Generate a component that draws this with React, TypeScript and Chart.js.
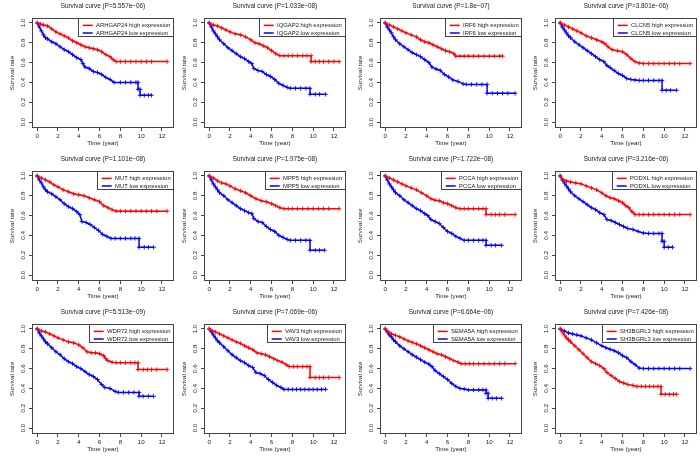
import React, { useEffect, useRef } from "react";
import { Chart, registerables } from "chart.js";
Chart.register(...registerables);

type Pt = [number, number];

const genes = ["ARHGAP24", "IQGAP2", "IRF6", "CLCN5", "MUT", "MPP5", "PCCA", "PODXL", "WDR72", "VAV3", "SEMA5A", "SH3BGRL3"];
const pValues = ["5.557e\u221206", "1.033e\u221208", "1.8e\u221207", "3.801e\u221206", "1.101e\u221208", "1.975e\u221208", "1.722e\u221208", "3.216e\u221206", "5.513e\u221209", "7.069e\u221206", "6.664e\u221206", "7.426e\u221208"];
const xTicks = [0, 2, 4, 6, 8, 10, 12];
const yTicks = [0, 0.2, 0.4, 0.6, 0.8, 1];
const yTickLabels = ["0.0", "0.2", "0.4", "0.6", "0.8", "1.0"];

const arhgap24High: Pt[] = [[0,1],[0.3,0.99],[0.6,0.98],[1,0.97],[1.4,0.94],[1.8,0.91],[2.2,0.89],[2.6,0.87],[3,0.85],[3.4,0.82],[3.8,0.8],[4.2,0.78],[4.6,0.76],[5,0.75],[5.4,0.74],[5.8,0.73],[6.2,0.71],[6.6,0.68],[7,0.66],[7.3,0.63],[7.6,0.61],[8,0.61],[8.5,0.61],[9,0.61],[9.5,0.61],[10,0.61],[10.5,0.61],[11,0.61],[12.5,0.61]];
const arhgap24Low: Pt[] = [[0,1],[0.2,0.96],[0.4,0.92],[0.6,0.88],[0.8,0.85],[1,0.84],[1.4,0.81],[1.8,0.79],[2.2,0.76],[2.6,0.73],[3,0.71],[3.4,0.68],[3.8,0.65],[4.2,0.63],[4.4,0.59],[4.6,0.555],[5,0.54],[5.4,0.51],[5.8,0.5],[6.2,0.48],[6.6,0.45],[7,0.43],[7.4,0.4],[8,0.4],[8.5,0.4],[9,0.4],[9.5,0.4],[9.7,0.4],[9.7,0.33],[9.9,0.33],[9.9,0.27],[10.3,0.27],[10.7,0.27],[11,0.27]];

const iqgap2High: Pt[] = [[0,1],[0.4,0.98],[0.8,0.97],[1.2,0.95],[1.6,0.93],[2,0.91],[2.5,0.89],[3,0.88],[3.5,0.86],[4,0.83],[4.4,0.8],[4.8,0.79],[5.2,0.77],[5.6,0.75],[6,0.72],[6.4,0.69],[6.8,0.67],[7.2,0.67],[7.6,0.67],[8,0.67],[8.5,0.67],[9,0.67],[9.4,0.67],[9.8,0.67],[9.8,0.61],[10.2,0.61],[10.6,0.61],[11,0.61],[11.5,0.61],[12,0.61],[12.5,0.61]];
const iqgap2Low: Pt[] = [[0,1],[0.2,0.96],[0.4,0.92],[0.6,0.89],[0.8,0.86],[1,0.83],[1.4,0.79],[1.8,0.75],[2.2,0.72],[2.6,0.69],[3,0.66],[3.4,0.64],[3.8,0.61],[4.1,0.59],[4.3,0.54],[4.7,0.52],[5.1,0.51],[5.5,0.48],[5.9,0.46],[6.3,0.43],[6.7,0.39],[7.1,0.37],[7.5,0.35],[7.8,0.34],[8.3,0.34],[8.8,0.34],[9.3,0.34],[9.7,0.34],[9.7,0.28],[10.2,0.28],[10.6,0.28],[11.2,0.28]];

const irf6High: Pt[] = [[0,1],[0.4,0.98],[0.8,0.96],[1.2,0.94],[1.6,0.92],[2,0.9],[2.5,0.88],[3,0.86],[3.4,0.83],[3.8,0.81],[4.2,0.8],[4.6,0.78],[5,0.76],[5.4,0.74],[5.8,0.72],[6.2,0.71],[6.6,0.69],[6.8,0.665],[7.2,0.665],[7.6,0.665],[8,0.665],[8.5,0.665],[9,0.665],[9.5,0.665],[10,0.665],[10.5,0.665],[11,0.665],[11.3,0.665]];
const irf6Low: Pt[] = [[0,1],[0.2,0.96],[0.4,0.93],[0.6,0.9],[0.8,0.86],[1,0.83],[1.4,0.79],[1.8,0.76],[2.2,0.73],[2.6,0.7],[3,0.68],[3.4,0.66],[3.8,0.63],[4.2,0.6],[4.5,0.555],[4.9,0.535],[5.3,0.52],[5.7,0.48],[6.1,0.455],[6.5,0.425],[7,0.41],[7.5,0.385],[7.8,0.38],[8.3,0.38],[8.8,0.38],[9.3,0.38],[9.8,0.38],[9.8,0.29],[10.3,0.29],[10.8,0.29],[11.3,0.29],[11.8,0.29],[12.5,0.29]];

const clcn5High: Pt[] = [[0,1],[0.4,0.98],[0.8,0.96],[1.2,0.94],[1.6,0.92],[2,0.9],[2.5,0.87],[3,0.85],[3.5,0.83],[4,0.81],[4.3,0.79],[4.6,0.76],[5,0.73],[5.5,0.72],[6,0.71],[6.4,0.68],[6.8,0.64],[7.2,0.61],[7.6,0.595],[8,0.59],[8.5,0.59],[9,0.59],[9.5,0.59],[10,0.59],[10.5,0.59],[11,0.59],[11.5,0.59],[12.5,0.59]];
const clcn5Low: Pt[] = [[0,1],[0.2,0.96],[0.4,0.93],[0.6,0.9],[0.8,0.87],[1,0.85],[1.4,0.81],[1.8,0.78],[2.2,0.75],[2.6,0.72],[3,0.69],[3.4,0.66],[3.8,0.63],[4.2,0.61],[4.5,0.57],[4.8,0.55],[5.2,0.52],[5.6,0.49],[6,0.47],[6.4,0.44],[6.8,0.43],[7.2,0.425],[7.6,0.42],[8,0.42],[8.5,0.42],[9,0.42],[9.5,0.42],[9.8,0.42],[9.8,0.32],[10.2,0.32],[10.6,0.32],[11.2,0.32]];

const mutHigh: Pt[] = [[0,1],[0.4,0.98],[0.8,0.96],[1.2,0.94],[1.6,0.91],[2,0.89],[2.5,0.86],[3,0.84],[3.5,0.82],[4,0.81],[4.5,0.8],[5,0.78],[5.5,0.76],[6,0.74],[6.4,0.7],[6.8,0.68],[7.2,0.66],[7.6,0.645],[8,0.645],[8.5,0.645],[9,0.645],[9.5,0.645],[10,0.645],[10.5,0.645],[11,0.645],[11.5,0.645],[12.5,0.645]];
const mutLow: Pt[] = [[0,1],[0.2,0.96],[0.4,0.93],[0.6,0.89],[0.8,0.86],[1,0.84],[1.4,0.82],[1.8,0.79],[2.2,0.76],[2.6,0.72],[3,0.69],[3.4,0.67],[3.8,0.64],[4.1,0.61],[4.3,0.54],[4.7,0.53],[5.1,0.51],[5.5,0.48],[5.9,0.45],[6.3,0.41],[6.7,0.39],[7.1,0.37],[7.5,0.37],[8,0.37],[8.5,0.37],[9,0.37],[9.4,0.37],[9.8,0.37],[9.8,0.28],[10.3,0.28],[10.7,0.28],[11.2,0.28]];

const mpp5High: Pt[] = [[0,1],[0.4,0.98],[0.8,0.95],[1.2,0.93],[1.6,0.92],[2,0.9],[2.5,0.87],[3,0.85],[3.5,0.83],[4,0.8],[4.5,0.77],[5,0.75],[5.5,0.74],[6,0.72],[6.4,0.7],[6.8,0.68],[7.2,0.67],[7.6,0.67],[8,0.67],[8.5,0.67],[9,0.67],[9.5,0.67],[10,0.67],[10.5,0.67],[11,0.67],[11.5,0.67],[12.5,0.67]];
const mpp5Low: Pt[] = [[0,1],[0.2,0.96],[0.4,0.92],[0.6,0.89],[0.8,0.86],[1,0.83],[1.4,0.8],[1.8,0.76],[2.2,0.73],[2.6,0.7],[3,0.67],[3.4,0.65],[3.8,0.63],[4.1,0.62],[4.3,0.57],[4.7,0.54],[5.1,0.53],[5.5,0.49],[5.9,0.46],[6.3,0.44],[6.7,0.4],[7.1,0.38],[7.5,0.36],[7.8,0.35],[8.3,0.35],[8.8,0.35],[9.3,0.35],[9.7,0.35],[9.7,0.25],[10.2,0.25],[10.6,0.25],[11.1,0.25]];

const pccaHigh: Pt[] = [[0,1],[0.4,0.98],[0.8,0.96],[1.2,0.94],[1.6,0.92],[2,0.9],[2.5,0.88],[3,0.86],[3.5,0.83],[4,0.8],[4.4,0.77],[4.8,0.755],[5.2,0.75],[5.6,0.73],[6,0.72],[6.4,0.7],[6.8,0.68],[7.2,0.67],[7.6,0.67],[8,0.67],[8.5,0.67],[9,0.67],[9.4,0.67],[9.7,0.67],[9.7,0.61],[10.2,0.61],[10.6,0.61],[11,0.61],[11.5,0.61],[12.5,0.61]];
const pccaLow: Pt[] = [[0,1],[0.2,0.96],[0.4,0.92],[0.6,0.89],[0.8,0.86],[1,0.83],[1.4,0.8],[1.8,0.76],[2.2,0.73],[2.6,0.7],[3,0.67],[3.4,0.65],[3.8,0.62],[4.1,0.6],[4.4,0.56],[4.8,0.54],[5.2,0.52],[5.6,0.48],[6,0.44],[6.4,0.42],[6.8,0.39],[7.2,0.37],[7.6,0.35],[8,0.35],[8.5,0.35],[9,0.35],[9.4,0.35],[9.7,0.35],[9.7,0.3],[10.2,0.3],[10.6,0.3],[11.2,0.3]];

const podxlHigh: Pt[] = [[0,1],[0.3,0.96],[0.6,0.95],[1,0.94],[1.5,0.93],[2,0.92],[2.5,0.9],[3,0.88],[3.5,0.86],[4,0.83],[4.4,0.8],[4.8,0.78],[5.2,0.77],[5.6,0.75],[6,0.73],[6.3,0.7],[6.6,0.68],[6.9,0.64],[7.2,0.61],[7.6,0.61],[8,0.61],[8.5,0.61],[9,0.61],[9.5,0.61],[10,0.61],[10.5,0.61],[11,0.61],[11.5,0.61],[12.5,0.61]];
const podxlLow: Pt[] = [[0,1],[0.2,0.96],[0.4,0.93],[0.6,0.9],[0.8,0.87],[1,0.84],[1.4,0.8],[1.8,0.77],[2.2,0.74],[2.6,0.71],[3,0.68],[3.4,0.66],[3.8,0.63],[4.2,0.61],[4.5,0.56],[4.9,0.55],[5.3,0.53],[5.7,0.51],[6.1,0.49],[6.5,0.47],[7,0.46],[7.5,0.44],[8,0.425],[8.5,0.42],[9,0.42],[9.5,0.42],[9.8,0.42],[9.8,0.34],[10,0.34],[10,0.28],[10.4,0.28],[10.8,0.28]];

const wdr72High: Pt[] = [[0,1],[0.4,0.98],[0.8,0.97],[1.2,0.95],[1.6,0.93],[2,0.91],[2.5,0.89],[3,0.87],[3.5,0.86],[4,0.84],[4.4,0.81],[4.8,0.77],[5.2,0.76],[5.6,0.76],[6,0.75],[6.4,0.73],[6.6,0.7],[6.8,0.68],[7.2,0.665],[7.6,0.66],[8,0.66],[8.5,0.66],[9,0.66],[9.4,0.66],[9.7,0.66],[9.7,0.59],[10.2,0.59],[10.6,0.59],[11,0.59],[11.5,0.59],[12.5,0.59]];
const wdr72Low: Pt[] = [[0,1],[0.2,0.96],[0.4,0.93],[0.6,0.9],[0.8,0.87],[1,0.85],[1.4,0.81],[1.8,0.77],[2.2,0.74],[2.6,0.7],[3,0.67],[3.4,0.65],[3.8,0.62],[4.2,0.6],[4.6,0.57],[5,0.54],[5.4,0.52],[5.8,0.49],[6.2,0.44],[6.5,0.41],[7,0.4],[7.5,0.37],[7.8,0.36],[8.3,0.36],[8.8,0.36],[9.3,0.36],[9.8,0.36],[9.8,0.32],[10.2,0.32],[10.7,0.32],[11.2,0.32]];

const vav3High: Pt[] = [[0,1],[0.3,0.98],[0.6,0.97],[1,0.95],[1.4,0.93],[1.8,0.91],[2.2,0.89],[2.6,0.87],[3,0.855],[3.4,0.83],[3.8,0.81],[4.2,0.79],[4.6,0.76],[5,0.75],[5.4,0.74],[5.8,0.72],[6.2,0.7],[6.6,0.68],[7,0.665],[7.4,0.64],[7.7,0.62],[8.1,0.62],[8.5,0.62],[9,0.62],[9.4,0.62],[9.7,0.62],[9.7,0.51],[10.2,0.51],[10.6,0.51],[11,0.51],[11.5,0.51],[12.5,0.51]];
const vav3Low: Pt[] = [[0,1],[0.2,0.97],[0.4,0.94],[0.6,0.91],[0.8,0.88],[1,0.86],[1.4,0.82],[1.8,0.78],[2.2,0.74],[2.6,0.71],[3,0.68],[3.4,0.66],[3.8,0.63],[4.2,0.61],[4.5,0.56],[4.9,0.55],[5.3,0.53],[5.7,0.49],[6.1,0.46],[6.5,0.43],[6.9,0.41],[7.2,0.39],[7.6,0.39],[8,0.39],[8.4,0.39],[8.8,0.39],[9.2,0.39],[9.6,0.39],[10,0.39],[10.4,0.39],[10.8,0.39],[11.2,0.39]];

const sema5aHigh: Pt[] = [[0,1],[0.3,0.97],[0.6,0.95],[1,0.935],[1.4,0.92],[1.8,0.9],[2.2,0.88],[2.6,0.865],[3,0.85],[3.4,0.83],[3.8,0.81],[4.2,0.79],[4.6,0.77],[5,0.75],[5.4,0.74],[5.8,0.72],[6.2,0.7],[6.6,0.68],[7,0.665],[7.3,0.65],[7.7,0.65],[8.1,0.65],[8.5,0.65],[9,0.65],[9.5,0.65],[10,0.65],[10.5,0.65],[11,0.65],[11.5,0.65],[12.5,0.65]];
const sema5aLow: Pt[] = [[0,1],[0.2,0.97],[0.4,0.94],[0.6,0.92],[0.8,0.89],[1,0.87],[1.4,0.83],[1.8,0.8],[2.2,0.77],[2.6,0.74],[3,0.715],[3.4,0.69],[3.8,0.665],[4.2,0.645],[4.5,0.62],[4.8,0.58],[5.2,0.55],[5.6,0.52],[6,0.49],[6.4,0.45],[6.8,0.42],[7.2,0.4],[7.6,0.395],[8,0.385],[8.5,0.385],[9,0.385],[9.4,0.385],[9.7,0.385],[9.7,0.35],[9.9,0.35],[9.9,0.3],[10.3,0.3],[10.7,0.3],[11.2,0.3]];

const sh3bgrl3High: Pt[] = [[0,1],[0.2,0.97],[0.4,0.94],[0.6,0.91],[0.8,0.89],[1,0.87],[1.4,0.83],[1.8,0.79],[2.2,0.75],[2.6,0.71],[3,0.67],[3.4,0.65],[3.8,0.63],[4.2,0.6],[4.5,0.56],[4.9,0.53],[5.3,0.5],[5.7,0.47],[6.1,0.455],[6.5,0.44],[7,0.43],[7.4,0.42],[7.8,0.42],[8.2,0.42],[8.6,0.42],[9,0.42],[9.4,0.42],[9.7,0.42],[9.7,0.34],[10.1,0.34],[10.5,0.34],[10.9,0.34],[11.2,0.34]];
const sh3bgrl3Low: Pt[] = [[0,1],[0.4,0.98],[0.8,0.96],[1.2,0.95],[1.6,0.94],[2,0.93],[2.5,0.91],[3,0.89],[3.5,0.86],[4,0.83],[4.4,0.81],[4.8,0.795],[5.2,0.78],[5.6,0.76],[6,0.73],[6.4,0.71],[6.8,0.67],[7.2,0.64],[7.6,0.605],[8,0.6],[8.5,0.6],[9,0.6],[9.5,0.6],[10,0.6],[10.5,0.6],[11,0.6],[11.5,0.6],[12.5,0.6]];

const highCurves = [arhgap24High, iqgap2High, irf6High, clcn5High, mutHigh, mpp5High, pccaHigh, podxlHigh, wdr72High, vav3High, sema5aHigh, sh3bgrl3High];
const lowCurves = [arhgap24Low, iqgap2Low, irf6Low, clcn5Low, mutLow, mpp5Low, pccaLow, podxlLow, wdr72Low, vav3Low, sema5aLow, sh3bgrl3Low];

// layout (pixels)
const colBoxLeft = [32, 204, 380, 555];
const rowBoxTop = [18, 171, 324];
const BOX_W = 144;
const BOX_H = 110;
const PAD_L = 32;
const PAD_T = 18;
const PAD_B = 26;
const PAD_R = 1;

const FONT = '"Liberation Sans", Arial, Helvetica, sans-serif';
const RED = "#ff0000";
const BLUE = "#0000ff";
const AXIS = "#444444";
const TEXT = "#1a1a1a";

function makeDataset(label: string, pts: Pt[], color: string) {
  return {
    label,
    data: pts.map(([x, y]) => ({ x, y })),
    borderColor: color,
    backgroundColor: color,
    borderWidth: 1.5,
    pointStyle: "cross" as const,
    pointRadius: 2.2,
    pointBorderWidth: 0.9,
    pointBorderColor: color,
    pointHoverRadius: 2.2,
    fill: false,
    tension: 0,
  };
}

function decorPlugin(idx: number) {
  return {
    id: "decor" + idx,
    afterDraw(chart: any) {
      const { ctx, chartArea: a, scales } = chart;
      const xs = scales.x;
      const ys = scales.y;
      ctx.save();
      // box
      ctx.strokeStyle = AXIS;
      ctx.lineWidth = 1;
      ctx.strokeRect(Math.round(a.left) + 0.5, Math.round(a.top) + 0.5, Math.round(a.width) - 1, Math.round(a.height) - 1);
      ctx.fillStyle = TEXT;
      ctx.textAlign = "center";
      ctx.textBaseline = "middle";
      const cx = (a.left + a.right) / 2;
      // title
      ctx.font = `6.4px ${FONT}`;
      ctx.fillText(`Survival curve (P=${pValues[idx]})`, cx, a.top - 11.5);
      // x ticks
      ctx.font = `6.2px ${FONT}`;
      xTicks.forEach((v) => ctx.fillText(String(v), xs.getPixelForValue(v), a.bottom + 8));
      ctx.fillText("Time (year)", cx, a.bottom + 15);
      // y ticks rotated
      yTicks.forEach((v, i) => {
        ctx.save();
        ctx.translate(a.left - 9, ys.getPixelForValue(v));
        ctx.rotate(-Math.PI / 2);
        ctx.fillText(yTickLabels[i], 0, 0);
        ctx.restore();
      });
      ctx.save();
      ctx.translate(a.left - 20, (a.top + a.bottom) / 2);
      ctx.rotate(-Math.PI / 2);
      ctx.fillText("Survival rate", 0, 0);
      ctx.restore();
      // legend
      ctx.font = `5.9px ${FONT}`;
      const ds = chart.data.datasets;
      let tw = 0;
      ds.forEach((d: any) => (tw = Math.max(tw, ctx.measureText(d.label).width)));
      const bw = 4.7 + 10 + 3.3 + tw + 3.7;
      const bh = 18;
      const bx = Math.round(a.right - bw);
      const by = Math.round(a.top);
      ctx.fillStyle = "#ffffff";
      ctx.fillRect(bx, by, a.right - bx, bh);
      ctx.strokeStyle = AXIS;
      ctx.strokeRect(bx + 0.5, by + 0.5, Math.round(a.right) - bx - 1, bh);
      ds.forEach((d: any, i: number) => {
        const ly = by + 7.4 + i * 7.6;
        ctx.strokeStyle = d.borderColor;
        ctx.lineWidth = 1.5;
        ctx.beginPath();
        ctx.moveTo(bx + 4.7, ly);
        ctx.lineTo(bx + 14.7, ly);
        ctx.stroke();
        ctx.fillStyle = TEXT;
        ctx.textAlign = "left";
        ctx.fillText(d.label, bx + 18, ly);
      });
      ctx.restore();
    },
  };
}

function Panel({ idx, left, top }: { idx: number; left: number; top: number }) {
  const ref = useRef<HTMLCanvasElement>(null);
  const W = PAD_L + BOX_W + PAD_R;
  const H = PAD_T + BOX_H + PAD_B;
  useEffect(() => {
    const canvas = ref.current!;
    const gene = genes[idx];
    const axisCommon = {
      type: "linear" as const,
      ticks: { display: false },
      grid: { display: true, drawOnChartArea: false, drawTicks: true, tickLength: 3, color: AXIS, lineWidth: 1 },
      border: { display: false },
    };
    const chart = new Chart(canvas, {
      type: "line",
      data: {
        datasets: [
          makeDataset(`${gene} high expression`, highCurves[idx], RED),
          makeDataset(`${gene} low expression`, lowCurves[idx], BLUE),
        ],
      },
      options: {
        responsive: false,
        animation: false,
        devicePixelRatio: 1,
        events: [],
        layout: { padding: { top: PAD_T, left: 0, right: PAD_R, bottom: 0 } },
        plugins: { legend: { display: false }, tooltip: { enabled: false }, title: { display: false } },
        scales: {
          x: {
            ...axisCommon,
            min: -0.5,
            max: 13.15,
            afterBuildTicks: (s: any) => { s.ticks = xTicks.map((v) => ({ value: v })); },
            afterFit: (s: any) => { s.height = PAD_B; },
          },
          y: {
            ...axisCommon,
            min: -0.06,
            max: 1.05,
            afterBuildTicks: (s: any) => { s.ticks = yTicks.map((v) => ({ value: v })); },
            afterFit: (s: any) => { s.width = PAD_L; },
          },
        },
      } as any,
      plugins: [decorPlugin(idx)],
    });
    return () => chart.destroy();
  }, [idx]);
  return (
    <canvas
      ref={ref}
      width={W}
      height={H}
      style={{ position: "absolute", left, top, width: W, height: H }}
    />
  );
}

export default function App() {
  const panels = genes.map((g, i) => {
    const r = Math.floor(i / 4);
    const c = i % 4;
    return <Panel key={g} idx={i} left={colBoxLeft[c] - PAD_L} top={rowBoxTop[r] - PAD_T} />;
  });
  return (
    <div style={{ position: "absolute", left: 0, top: 0, width: 700, height: 456, overflow: "hidden", background: "#ffffff" }}>
      {panels}
    </div>
  );
}
